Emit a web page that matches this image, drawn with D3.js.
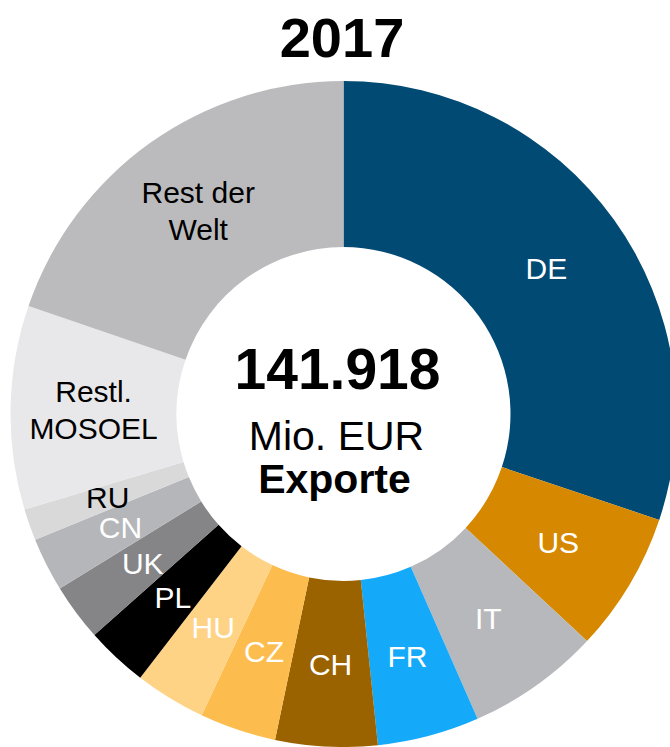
<!DOCTYPE html>
<html>
<head>
<meta charset="utf-8">
<script src="https://cdn.jsdelivr.net/npm/d3@7"></script>
<style>
  body { margin: 0; background: #fff; }
  svg { display: block; font-family: "Liberation Sans", Arial, Helvetica, sans-serif; }
</style>
</head>
<body>
<svg id="chart" width="670" height="747"></svg>
<script>
// Exporte 2017 nach Ländern, Mio. EUR
const countries = ['DE', 'US', 'IT', 'FR', 'CH', 'CZ', 'HU', 'PL', 'UK', 'CN', 'RU', 'Restl.\nMOSOEL', 'Rest der\nWelt']
const values = [42790, 9640, 9170, 7020, 7020, 5260, 4890, 4260, 3940, 3710, 2170, 14030, 28020]
const colors = ['#004a73', '#d58800', '#b7b8bb', '#15a9fa', '#9b6200', '#fdbd4e', '#fed386',
  '#000000', '#858487', '#b5b6b9', '#d9d9da', '#e8e8ea', '#bbbbbd']
const labelColors = ['#fff', '#fff', '#fff', '#fff', '#fff', '#fff', '#fff', '#fff', '#fff', '#fff',
  '#000', '#000', '#000']
const title = '2017'
const centerLines = ['141.918', 'Mio. EUR', 'Exporte']

const cx = 343.5
const cy = 414
const outerR = 333
const innerR = 167

const svg = d3.select('#chart')

svg.append('text')
  .attr('x', 342)
  .attr('y', 57)
  .attr('text-anchor', 'middle')
  .attr('font-size', 56)
  .attr('font-weight', 'bold')
  .text(title)

const data = countries.map((c, i) => ({ name: c, value: values[i], color: colors[i], label: labelColors[i] }))

const pie = d3.pie().sort(null).value(d => d.value)
const arc = d3.arc().innerRadius(innerR).outerRadius(outerR)

const g = svg.append('g').attr('transform', `translate(${cx},${cy})`)

const slices = g.selectAll('.slice')
  .data(pie(data))
  .enter()
  .append('g')
  .attr('class', 'slice')

slices.append('path')
  .attr('d', arc)
  .attr('fill', d => d.data.color)

slices.each(function (d) {
  const [x, y] = arc.centroid(d)
  const lines = d.data.name.split('\n')
  const lh = 37
  const t = d3.select(this).append('text')
    .attr('text-anchor', 'middle')
    .attr('font-size', 30)
    .attr('fill', d.data.label)
  lines.forEach((line, i) => {
    t.append('tspan')
      .attr('x', x)
      .attr('y', y + 11 - (lines.length - 1) * lh / 2 + i * lh)
      .text(line)
  })
})

// Text in der Mitte
const center = g.append('g').attr('text-anchor', 'middle')
center.append('text')
  .attr('x', -6)
  .attr('y', -25)
  .attr('font-size', 57)
  .attr('font-weight', 'bold')
  .text(centerLines[0])
center.append('text')
  .attr('x', -7)
  .attr('y', 36)
  .attr('font-size', 41)
  .text(centerLines[1])
center.append('text')
  .attr('x', -9)
  .attr('y', 79)
  .attr('font-size', 41)
  .attr('font-weight', 'bold')
  .text(centerLines[2])
</script>
</body>
</html>
